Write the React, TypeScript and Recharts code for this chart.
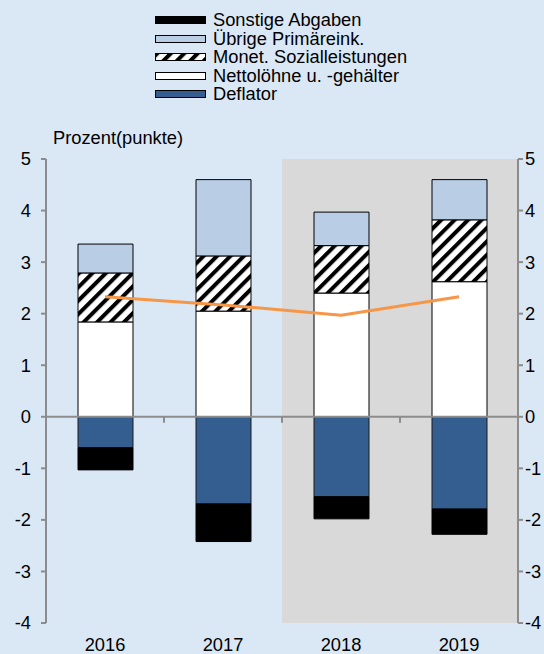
import React from 'react';
import {
  ComposedChart, Bar, Line, XAxis, YAxis, ReferenceArea, ReferenceLine,
} from 'recharts';

const categories = ['2016', '2017', '2018', '2019'];
const nettoloehne = [1.84, 2.05, 2.40, 2.62];
const sozialleistungen = [0.95, 1.07, 0.92, 1.20];
const uebrige = [0.56, 1.48, 0.65, 0.78];
const deflator = [-0.60, -1.69, -1.55, -1.79];
const sonstige = [-0.43, -0.73, -0.43, -0.49];
const gesamt = [2.33, 2.17, 1.97, 2.33];
const yTicks = [-4, -3, -2, -1, 0, 1, 2, 3, 4, 5];
const shadedFrom = '2018';
const shadedTo = '2019';

const legendItems = [
  { label: 'Sonstige Abgaben', fill: '#000000' },
  { label: 'Übrige Primäreink.', fill: '#b9cde5' },
  { label: 'Monet. Sozialleistungen', fill: 'url(#hatch)' },
  { label: 'Nettolöhne u. -gehälter', fill: '#ffffff' },
  { label: 'Deflator', fill: '#345e8f' },
];

const data = categories.map((c, i) => ({
  year: c,
  netto: nettoloehne[i],
  sozial: sozialleistungen[i],
  uebrige: uebrige[i],
  deflator: deflator[i],
  sonstige: sonstige[i],
  gesamt: gesamt[i],
}));

const FONT = '"Liberation Sans", Arial, Helvetica, sans-serif';
const BG = '#dae8f5';
const FS = 18.3;

const ZeroLine = (props: any) => {
  const { x1, x2, y1 } = props;
  const n = categories.length;
  const ticks = [];
  for (let i = 1; i < n; i++) {
    const x = x1 + ((x2 - x1) * i) / n;
    ticks.push(<line key={i} x1={x} x2={x} y1={y1} y2={y1 + 6} stroke="#8c8c8c" strokeWidth={2} />);
  }
  return (
    <g>
      <line x1={x1} x2={x2} y1={y1} y2={y1} stroke="#8c8c8c" strokeWidth={2} />
      {ticks}
    </g>
  );
};

const HatchDefs = () => (
  <svg width={0} height={0} style={{ position: 'absolute' }}>
    <defs>
      <pattern id="hatch" width="9.5" height="9.5" patternUnits="userSpaceOnUse" patternTransform="rotate(45)">
        <rect x="0" y="0" width="9.5" height="9.5" fill="#ffffff" />
        <rect x="0" y="0" width="4" height="9.5" fill="#000000" />
      </pattern>
    </defs>
  </svg>
);

export default function App() {
  return (
    <div style={{ position: 'absolute', left: 0, top: 0, width: 544, height: 654, background: BG, fontFamily: FONT, overflow: 'hidden' }}>
      <HatchDefs />
      <div style={{ position: 'absolute', left: 155, top: 11, fontSize: FS, color: '#000' }}>
        {legendItems.map((it) => (
          <div key={it.label} style={{ display: 'flex', alignItems: 'center', height: 18.5, lineHeight: '18.5px' }}>
            <svg width={51} height={9} style={{ marginRight: 7, marginTop: 1 }}>
              <rect x={0.5} y={0.5} width={50} height={7} fill={it.fill} stroke="#000" strokeWidth={1} />
            </svg>
            <span style={{ whiteSpace: 'nowrap' }}>{it.label}</span>
          </div>
        ))}
      </div>
      <div style={{ position: 'absolute', left: 53, top: 129, fontSize: FS, lineHeight: '18px', color: '#000', whiteSpace: 'nowrap' }}>
        Prozent(punkte)
      </div>
      <div style={{ position: 'absolute', left: 0, top: 0 }}>
        <ComposedChart
          width={544}
          height={654}
          data={data}
          stackOffset="sign"
          margin={{ top: 159, right: 0, bottom: 0, left: 0 }}
        >
          <XAxis
            dataKey="year"
            axisLine={false}
            tickLine={false}
            tickSize={0}
            tickMargin={15}
            height={31}
            tick={{ fontSize: FS, fill: '#000', fontFamily: FONT }}
            interval={0}
          />
          <YAxis
            yAxisId="left"
            domain={[-4, 5]}
            ticks={yTicks}
            interval={0}
            width={46}
            tickSize={5}
            tickMargin={10}
            axisLine={{ stroke: '#8c8c8c', strokeWidth: 2 }}
            tickLine={{ stroke: '#8c8c8c', strokeWidth: 2 }}
            tick={{ fontSize: FS, fill: '#000', fontFamily: FONT }}
          />
          <YAxis
            yAxisId="right"
            orientation="right"
            domain={[-4, 5]}
            ticks={yTicks}
            interval={0}
            width={26}
            tickSize={5}
            tickMargin={2}
            axisLine={{ stroke: '#8c8c8c', strokeWidth: 2 }}
            tickLine={{ stroke: '#8c8c8c', strokeWidth: 2 }}
            tick={{ fontSize: FS, fill: '#000', fontFamily: FONT }}
          />
          <ReferenceArea
            yAxisId="right"
            x1={shadedFrom}
            x2={shadedTo}
            y1={yTicks[0]}
            y2={yTicks[yTicks.length - 1]}
            fill="#d9d9d9"
            fillOpacity={1}
            stroke="none"
            ifOverflow="extendDomain"
          />
          <Bar yAxisId="left" dataKey="netto" stackId="s" fill="#ffffff" stroke="#000" strokeWidth={1} barSize={55} isAnimationActive={false} />
          <Bar yAxisId="left" dataKey="sozial" stackId="s" fill="url(#hatch)" stroke="#000" strokeWidth={1} barSize={55} isAnimationActive={false} />
          <Bar yAxisId="left" dataKey="uebrige" stackId="s" fill="#b9cde5" stroke="#000" strokeWidth={1} barSize={55} isAnimationActive={false} />
          <Bar yAxisId="left" dataKey="deflator" stackId="s" fill="#345e8f" stroke="#1a1a1a" strokeWidth={1} barSize={55} isAnimationActive={false} />
          <Bar yAxisId="left" dataKey="sonstige" stackId="s" fill="#000000" stroke="#000" strokeWidth={1} barSize={55} isAnimationActive={false} />
          <ReferenceLine yAxisId="left" y={0} shape={ZeroLine} />
          <Line yAxisId="left" dataKey="gesamt" type="linear" stroke="#f79646" strokeWidth={3} dot={false} activeDot={false} isAnimationActive={false} />
        </ComposedChart>
      </div>
    </div>
  );
}
